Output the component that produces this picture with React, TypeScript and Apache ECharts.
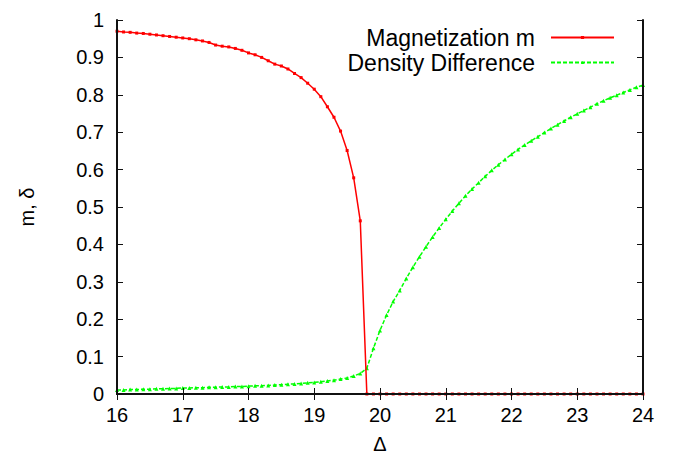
import React, { useEffect, useRef } from "react";
import * as echarts from "echarts";

const deltaValues: number[] = [
  16.0, 16.1, 16.2, 16.3, 16.4, 16.5, 16.6, 16.7, 16.8, 16.9,
  17.0, 17.1, 17.2, 17.3, 17.4, 17.5, 17.6, 17.7, 17.8, 17.9,
  18.0, 18.1, 18.2, 18.3, 18.4, 18.5, 18.6, 18.7, 18.8, 18.9,
  19.0, 19.1, 19.2, 19.3, 19.4, 19.5, 19.6, 19.7, 19.8, 19.9,
  20.0, 20.1, 20.2, 20.3, 20.4, 20.5, 20.6, 20.7, 20.8, 20.9,
  21.0, 21.1, 21.2, 21.3, 21.4, 21.5, 21.6, 21.7, 21.8, 21.9,
  22.0, 22.1, 22.2, 22.3, 22.4, 22.5, 22.6, 22.7, 22.8, 22.9,
  23.0, 23.1, 23.2, 23.3, 23.4, 23.5, 23.6, 23.7, 23.8, 23.9,
  24.0,
];

const magnetization: number[] = [
  0.970, 0.968, 0.967, 0.965, 0.964, 0.962, 0.960, 0.958, 0.956, 0.954,
  0.952, 0.950, 0.947, 0.944, 0.940, 0.933, 0.930, 0.928, 0.924, 0.919,
  0.912, 0.907, 0.900, 0.891, 0.882, 0.877, 0.869, 0.857, 0.846, 0.831,
  0.815, 0.795, 0.768, 0.740, 0.703, 0.651, 0.578, 0.463, 0, 0,
  0, 0, 0, 0, 0, 0, 0, 0, 0, 0,
  0, 0, 0, 0, 0, 0, 0, 0, 0, 0,
  0, 0, 0, 0, 0, 0, 0, 0, 0, 0,
  0, 0, 0, 0, 0, 0, 0, 0, 0, 0,
  0,
];

const densityDifference: number[] = [
  0.011, 0.011, 0.012, 0.012, 0.013, 0.013, 0.014, 0.014, 0.015, 0.015,
  0.016, 0.016, 0.017, 0.017, 0.018, 0.018, 0.019, 0.019, 0.020, 0.020,
  0.021, 0.022, 0.022, 0.023, 0.024, 0.025, 0.026, 0.027, 0.028, 0.030,
  0.031, 0.033, 0.035, 0.037, 0.040, 0.043, 0.048, 0.055, 0.069, 0.122,
  0.170, 0.211, 0.247, 0.277, 0.309, 0.339, 0.367, 0.394, 0.420, 0.444,
  0.467, 0.489, 0.510, 0.530, 0.548, 0.565, 0.582, 0.598, 0.613, 0.627,
  0.641, 0.654, 0.666, 0.677, 0.688, 0.699, 0.710, 0.720, 0.730, 0.740,
  0.749, 0.758, 0.767, 0.776, 0.784, 0.792, 0.799, 0.806, 0.813, 0.820,
  0.826,
];

const seriesNames: string[] = ["Magnetization m", "Density Difference"];
const xAxisName = "Δ";
const yAxisName = "m, δ";

const FONT = "'Liberation Sans', Arial, Helvetica, sans-serif";

export default function App() {
  const ref = useRef<HTMLDivElement>(null);

  useEffect(() => {
    if (!ref.current) return;
    const chart = echarts.init(ref.current, undefined, { renderer: "svg" });

    const magData = deltaValues.map((x, i) => [x, magnetization[i]]);
    const denData = deltaValues.map((x, i) => [x, densityDifference[i]]);

    const axisLine = { show: true, lineStyle: { color: "#111", width: 2 } };
    const axisTick = { show: true, inside: true, length: 6, lineStyle: { color: "#111", width: 1 } };

    chart.setOption({
      animation: false,
      backgroundColor: "#fff",
      textStyle: { fontFamily: FONT },
      grid: { left: 117, right: 31, top: 20, bottom: 69, containLabel: false },
      legend: {
        orient: "vertical",
        right: 59,
        top: 26,
        padding: 0,
        align: "right",
        itemWidth: 63,
        itemHeight: 4,
        itemGap: 2,
        selectedMode: false,
        textStyle: { fontFamily: FONT, fontSize: 23, color: "#000", padding: [0, 11, 0, 0] },
        data: seriesNames,
      },
      xAxis: [
        {
          type: "value",
          min: 16,
          max: 24,
          interval: 1,
          position: "bottom",
          z: 5,
          name: xAxisName,
          nameLocation: "middle",
          nameGap: 40,
          nameTextStyle: { fontFamily: FONT, fontSize: 20, color: "#000" },
          axisLine,
          axisTick,
          axisLabel: { fontFamily: FONT, fontSize: 20, color: "#000", margin: 11 },
          splitLine: { show: false },
        },
        {
          type: "value",
          min: 16,
          max: 24,
          interval: 1,
          position: "top",
          z: 5,
          axisLine,
          axisTick,
          axisLabel: { show: false },
          splitLine: { show: false },
        },
      ],
      yAxis: [
        {
          type: "value",
          min: 0,
          max: 1,
          interval: 0.1,
          position: "left",
          z: 5,
          name: yAxisName,
          nameLocation: "middle",
          nameGap: 80,
          nameRotate: 90,
          nameTextStyle: { fontFamily: FONT, fontSize: 20, color: "#000" },
          axisLine,
          axisTick,
          axisLabel: { fontFamily: FONT, fontSize: 20, color: "#000", margin: 13 },
          splitLine: { show: false },
        },
        {
          type: "value",
          min: 0,
          max: 1,
          interval: 0.1,
          position: "right",
          z: 5,
          axisLine,
          axisTick,
          axisLabel: { show: false },
          splitLine: { show: false },
        },
      ],
      series: [
        {
          name: seriesNames[0],
          type: "line",
          data: magData,
          xAxisIndex: 0,
          yAxisIndex: 0,
          symbol: "rect",
          symbolSize: 3,
          showSymbol: true,
          clip: false,
          color: "#ff0000",
          lineStyle: { color: "#ff0000", width: 1.5 },
          itemStyle: { color: "#ff0000" },
          z: 3,
        },
        {
          name: seriesNames[1],
          type: "line",
          data: denData,
          xAxisIndex: 0,
          yAxisIndex: 0,
          symbol: "triangle",
          symbolSize: 4,
          showSymbol: true,
          clip: false,
          color: "#00ff00",
          lineStyle: { color: "#00ff00", width: 1.5, type: [4, 2] },
          itemStyle: { color: "#00ff00" },
          z: 2,
        },
      ],
    });

    return () => chart.dispose();
  }, []);

  return (
    <div
      ref={ref}
      style={{ position: "absolute", left: 0, top: 0, width: 674, height: 463 }}
    />
  );
}
